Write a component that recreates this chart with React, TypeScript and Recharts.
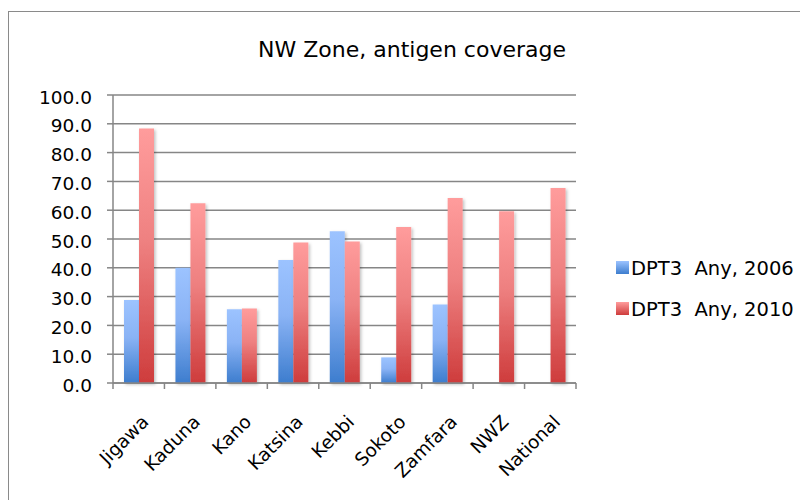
import { BarChart, Bar, XAxis, YAxis, CartesianGrid } from 'recharts';

const regions = ['Jigawa', 'Kaduna', 'Kano', 'Katsina', 'Kebbi', 'Sokoto', 'Zamfara', 'NWZ', 'National'];
const dpt3Any2006 = [28.8, 40.0, 25.6, 42.7, 52.7, 8.9, 27.3, null, null];
const dpt3Any2010 = [88.4, 62.4, 25.9, 48.8, 49.1, 54.2, 64.2, 59.6, 67.7];
const yTicks = [0, 10, 20, 30, 40, 50, 60, 70, 80, 90, 100];
const seriesNames = ['DPT3  Any, 2006', 'DPT3  Any, 2010'];

const data = regions.map((name, i) => ({
  name,
  y2006: dpt3Any2006[i],
  y2010: dpt3Any2010[i],
}));

const FONT = '"DejaVu Sans", Verdana, sans-serif';
const PLOT_W = 463;
const BAND = PLOT_W / regions.length;
const AXIS = '#868686';

function RegionTick(props: any) {
  const { x, y, payload, index } = props;
  const left = x - BAND / 2;
  const tx = x + 11;
  const ty = y + 40;
  return (
    <g>
      <line x1={left} y1={y} x2={left} y2={y + 6} stroke={AXIS} strokeWidth={1.5} />
      {index === regions.length - 1 && (
        <line x1={x + BAND / 2} y1={y} x2={x + BAND / 2} y2={y + 6} stroke={AXIS} strokeWidth={1.5} />
      )}
      <text
        x={tx}
        y={ty}
        transform={`rotate(-45, ${tx}, ${ty})`}
        textAnchor="end"
        fontSize={18.5}
        fontFamily={FONT}
        fill="#000"
      >
        {payload.value}
      </text>
    </g>
  );
}

// legend drawn next to the chart
function LegendBox() {
  return (
    <svg width={190} height={70} style={{ position: 'absolute', left: 608, top: 253, overflow: 'visible' }}>
      <defs>
        <linearGradient id="blueLeg" x1="0" y1="0" x2="0" y2="1">
          <stop offset="0%" stopColor="#9CC3FF" />
          <stop offset="100%" stopColor="#3D7DCE" />
        </linearGradient>
        <linearGradient id="redLeg" x1="0" y1="0" x2="0" y2="1">
          <stop offset="0%" stopColor="#FF9C9C" />
          <stop offset="100%" stopColor="#CE3C3C" />
        </linearGradient>
      </defs>
      {seriesNames.map((n, i) => (
        <g key={n}>
          <rect x={0} y={i * 41} width={13} height={13} fill={i === 0 ? 'url(#blueLeg)' : 'url(#redLeg)'} />
          <text
            x={15}
            y={i * 41 + 7}
            dominantBaseline="central"
            fontSize={19.5}
            fontFamily={FONT}
            fill="#000"
            style={{ whiteSpace: 'pre' }}
          >
            {n}
          </text>
        </g>
      ))}
    </svg>
  );
}

export default function App() {
  return (
    <div style={{ position: 'relative', width: 800, height: 492, overflow: 'hidden', background: '#fff' }}>
      <div
        style={{
          position: 'absolute',
          left: 0,
          top: 3,
          width: 830,
          height: 520,
          border: '1.5px solid #8a8a8a',
          boxSizing: 'border-box',
        }}
      />
      <div style={{ position: 'absolute', left: 0, top: 0 }}>
        <BarChart
          width={800}
          height={492}
          data={data}
          margin={{ top: 87, right: 232, bottom: 0, left: 0 }}
          barSize={15}
          barGap={0}
        >
          <defs>
            <linearGradient id="blueGrad" x1="0" y1="0" x2="0" y2="1">
              <stop offset="0%" stopColor="#9CC3FF" />
              <stop offset="45%" stopColor="#8AB3F5" />
              <stop offset="100%" stopColor="#3D7DCE" />
            </linearGradient>
            <linearGradient id="redGrad" x1="0" y1="0" x2="0" y2="1">
              <stop offset="0%" stopColor="#FF9C9C" />
              <stop offset="45%" stopColor="#EE8080" />
              <stop offset="100%" stopColor="#CE3C3C" />
            </linearGradient>
            <filter id="barShadow" x="-30%" y="-10%" width="160%" height="120%">
              <feDropShadow dx="1.5" dy="1.5" stdDeviation="1.8" floodColor="#000" floodOpacity="0.25" />
            </filter>
          </defs>
          <text x={404} y={41} textAnchor="middle" dominantBaseline="central" fontSize={22} fontFamily={FONT} fill="#000">
            NW Zone, antigen coverage
          </text>
          <CartesianGrid vertical={false} stroke={AXIS} strokeWidth={1.5} />
          <XAxis
            dataKey="name"
            interval={0}
            tickSize={0}
            tickMargin={0}
            tickLine={false}
            axisLine={{ stroke: AXIS, strokeWidth: 1.5 }}
            tick={<RegionTick />}
            height={117}
          />
          <YAxis
            width={105}
            domain={[0, 100]}
            ticks={yTicks}
            interval={0}
            tickFormatter={(v: number) => v.toFixed(1)}
            tickSize={6}
            tickMargin={15}
            axisLine={{ stroke: AXIS, strokeWidth: 1.5 }}
            tickLine={{ stroke: AXIS, strokeWidth: 1.5 }}
            tick={{ fontSize: 18.5, fontFamily: FONT, fill: '#000', dy: 2 }}
          />
          <Bar dataKey="y2006" name={seriesNames[0]} fill="url(#blueGrad)" filter="url(#barShadow)" isAnimationActive={false} />
          <Bar dataKey="y2010" name={seriesNames[1]} fill="url(#redGrad)" filter="url(#barShadow)" isAnimationActive={false} />
        </BarChart>
      </div>
      <LegendBox />
    </div>
  );
}
